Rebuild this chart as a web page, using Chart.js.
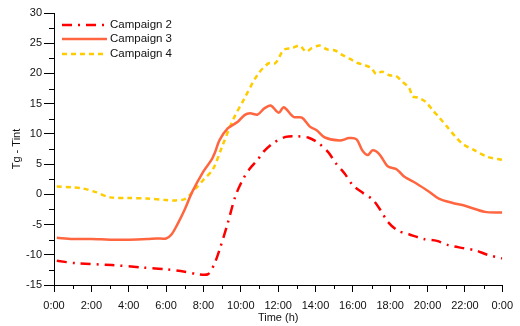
<!DOCTYPE html>
<html lang="en">
<head>
    <meta charset="UTF-8">
    <title>Tg - Tint</title>
    <style>
        body { margin: 0; background: #fff; }
        #wrap { width: 520px; height: 326px; }
    </style>
    <script src="https://cdn.jsdelivr.net/npm/chart.js"></script>
</head>
<body>
    <div id="wrap"><canvas id="grafico" width="520" height="326"></canvas></div>

    <script>
        // Datos (horas, diferencia de temperatura)
        const horas2 = [0.15, 1.2, 3.1, 4.7, 6.0, 7.0, 7.7, 8.25, 8.6, 8.87, 9.3, 9.7, 10.1, 10.5, 10.9, 11.2, 11.7, 12.4, 13.0, 13.6, 14.15, 14.7, 15.05, 15.57, 16.0, 16.55, 17.07, 17.5, 17.86, 18.4, 19.0, 19.8, 20.5, 21.1, 21.9, 22.6, 23.2, 24.0];
        const valores2 = [-11.0, -11.4, -11.7, -12.1, -12.4, -12.8, -13.2, -13.2, -11.4, -9.1, -4.8, -0.4, 2.4, 4.3, 5.7, 7.0, 8.4, 9.5, 9.6, 9.4, 8.5, 6.9, 5.3, 3.4, 1.5, 0.2, -0.9, -2.7, -4.5, -6.0, -6.6, -7.4, -7.7, -8.4, -8.9, -9.3, -10.0, -10.6];

        const horas3 = [0.15, 1, 2, 3, 4, 5, 5.5, 6.0, 6.3, 6.6, 7.0, 7.4, 8.0, 8.43, 8.6, 8.87, 9.3, 9.84, 10.2, 10.5, 10.9, 11.25, 11.6, 12.03, 12.3, 12.83, 13.27, 13.7, 14.06, 14.5, 15.3, 15.8, 16.2, 16.5, 16.8, 17.06, 17.4, 17.8, 17.95, 18.3, 18.5, 18.76, 19.4, 20.1, 20.6, 21.3, 22.0, 23.07, 24.0];
        const valores3 = [-7.2, -7.4, -7.4, -7.5, -7.5, -7.4, -7.3, -7.3, -6.6, -5.0, -2.5, 0.4, 3.8, 5.7, 6.8, 9.0, 10.9, 12.0, 13.1, 13.4, 13.2, 14.2, 14.7, 13.5, 14.4, 12.8, 12.7, 11.2, 10.6, 9.4, 8.9, 9.3, 9.1, 7.3, 6.5, 7.3, 6.7, 4.85, 4.5, 4.2, 3.7, 2.9, 1.8, 0.4, -0.7, -1.4, -1.9, -2.9, -3.0];

        const horas4 = [0.15, 1.0, 1.5, 2.2, 3.0, 4.0, 5.0, 6.0, 6.5, 7.0, 7.3, 7.6, 8.0, 8.5, 9.0, 9.58, 10.2, 10.9, 11.5, 11.85, 12.3, 12.75, 13.15, 13.5, 13.8, 14.25, 14.6, 15.05, 15.4, 15.85, 16.2, 16.6, 16.98, 17.25, 17.57, 17.95, 18.3, 18.66, 19.0, 19.2, 19.5, 19.9, 20.25, 20.6, 21.04, 21.5, 21.9, 22.5, 23.2, 24.0];
        const valores4 = [1.3, 1.15, 1.0, 0.4, -0.5, -0.6, -0.7, -0.95, -1.0, -0.8, 0.0, 1.0, 2.4, 4.1, 7.9, 12.3, 15.9, 19.8, 21.7, 21.7, 23.9, 24.2, 24.6, 23.6, 24.2, 24.6, 24.0, 23.8, 23.1, 22.4, 21.8, 21.4, 20.9, 19.9, 20.3, 19.7, 19.6, 18.6, 17.7, 16.2, 16.0, 15.3, 14.0, 12.8, 11.2, 9.5, 8.3, 7.3, 6.2, 5.7];

        const nombres = ['Campaign 2', 'Campaign 3', 'Campaign 4'];
        const ticksHoras = [0, 2, 4, 6, 8, 10, 12, 14, 16, 18, 20, 22, 24];

        const fuente = "Arial, 'Liberation Sans', sans-serif";

        function puntos(xs, ys) {
            return xs.map((x, i) => ({ x: x, y: ys[i] }));
        }

        // Leyenda propia: muestra los trazos con su patron de guiones
        const leyenda = {
            id: 'leyenda',
            afterDraw(chart) {
                const c = chart.ctx;
                const a = chart.chartArea;
                const filas = [12, 26, 41];
                chart.data.datasets.forEach((ds, i) => {
                    const y = a.top + filas[i];
                    c.save();
                    c.strokeStyle = ds.borderColor;
                    c.lineWidth = ds.borderWidth;
                    c.setLineDash(ds.borderDash || []);
                    c.beginPath();
                    c.moveTo(a.left + 8, y);
                    c.lineTo(a.left + 53, y);
                    c.stroke();
                    c.setLineDash([]);
                    c.fillStyle = '#111';
                    c.font = '11.5px ' + fuente;
                    c.textBaseline = 'middle';
                    c.fillText(ds.label, a.left + 56, y);
                    c.restore();
                });
            }
        };

        // Marcas menores en los ejes
        const marcasMenores = {
            id: 'marcasMenores',
            afterDraw(chart) {
                const c = chart.ctx;
                const sx = chart.scales.x;
                const sy = chart.scales.y;
                c.save();
                c.strokeStyle = '#000';
                c.lineWidth = 1;
                c.beginPath();
                for (let h = 1; h < 24; h += 2) {
                    const px = Math.round(sx.getPixelForValue(h)) + 0.5;
                    c.moveTo(px, sx.top);
                    c.lineTo(px, sx.top + 4);
                }
                for (let v = -12.5; v < 30; v += 5) {
                    const py = Math.round(sy.getPixelForValue(v)) + 0.5;
                    c.moveTo(sy.right, py);
                    c.lineTo(sy.right - 5, py);
                }
                c.stroke();
                c.restore();
            }
        };

        new Chart(document.getElementById('grafico'), {
            type: 'line',
            data: {
                datasets: [{
                    label: nombres[0],
                    data: puntos(horas2, valores2),
                    borderColor: '#ff0000',
                    borderWidth: 2.5,
                    borderDash: [10, 6, 2, 6],
                    pointRadius: 0,
                    tension: 0.3,
                    fill: false
                }, {
                    label: nombres[1],
                    data: puntos(horas3, valores3),
                    borderColor: '#ff6640',
                    borderWidth: 2.5,
                    borderDash: [],
                    pointRadius: 0,
                    tension: 0.3,
                    fill: false
                }, {
                    label: nombres[2],
                    data: puntos(horas4, valores4),
                    borderColor: '#ffcc00',
                    borderWidth: 2.5,
                    borderDash: [5, 4],
                    pointRadius: 0,
                    tension: 0.3,
                    fill: false
                }]
            },
            options: {
                responsive: false,
                animation: false,
                layout: { padding: { top: 13, right: 12, bottom: 0, left: 0 } },
                plugins: {
                    legend: { display: false },
                    tooltip: { enabled: false }
                },
                scales: {
                    x: {
                        type: 'linear',
                        min: 0,
                        max: 24,
                        afterBuildTicks(scale) {
                            scale.ticks = ticksHoras.map(v => ({ value: v }));
                        },
                        afterFit(scale) { scale.height = 41; },
                        ticks: {
                            autoSkip: false,
                            maxRotation: 0,
                            padding: 7,
                            color: '#111',
                            font: { family: fuente, size: 11 },
                            callback: v => (v % 24) + ':00'
                        },
                        grid: { drawOnChartArea: false, drawTicks: true, tickLength: 7, color: '#000' },
                        border: { display: true, color: '#000', width: 1 },
                        title: {
                            display: true,
                            text: 'Time (h)',
                            color: '#111',
                            font: { family: fuente, size: 11 },
                            padding: { top: 0, bottom: 1 }
                        }
                    },
                    y: {
                        min: -15,
                        max: 30,
                        afterFit(scale) { scale.width = 54; },
                        ticks: {
                            stepSize: 5,
                            padding: 2,
                            color: '#111',
                            font: { family: fuente, size: 11 }
                        },
                        grid: { drawOnChartArea: false, drawTicks: true, tickLength: 10, color: '#000' },
                        border: { display: true, color: '#000', width: 1 },
                        title: {
                            display: true,
                            text: 'Tg - Tint',
                            color: '#111',
                            font: { family: fuente, size: 11 },
                            padding: { top: 10, bottom: 0 }
                        }
                    }
                }
            },
            plugins: [leyenda, marcasMenores]
        });
    </script>
</body>
</html>
